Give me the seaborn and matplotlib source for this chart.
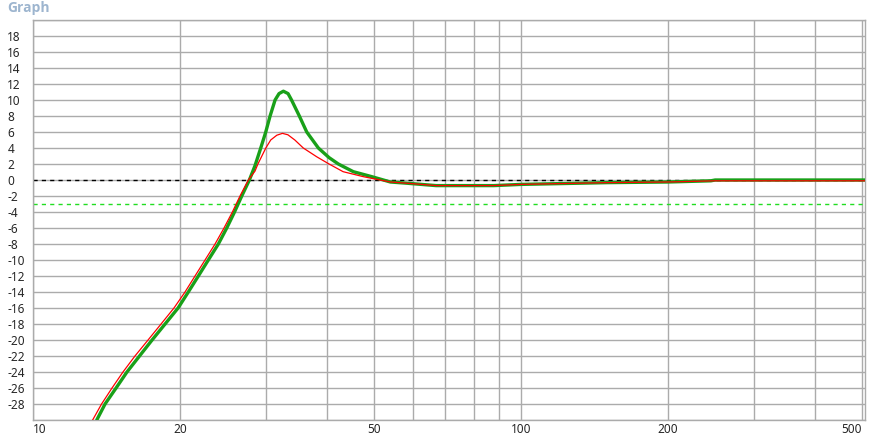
import matplotlib
matplotlib.use('Agg')
import matplotlib.pyplot as plt
import seaborn as sns
import pandas as pd

# частоты (Гц) и уровни (дБ)
green_freq = [13.51, 14.05, 14.80, 15.58, 16.53, 17.54, 18.65, 19.83, 20.81, 21.82, 22.87, 23.98,
              24.95, 25.88, 26.78, 27.76, 28.51, 29.29, 29.99, 30.61, 31.34, 31.93, 32.59,
              33.32, 33.87, 35.14, 36.39, 38.44, 40.43, 42.24, 45.33, 49.44, 54.0, 58.3, 67.0,
              88.0, 100.0, 150.0, 200.0, 245.0, 250.0, 510.0]
green_db = [-30, -28, -26, -24, -22, -20, -18, -16, -14, -12, -10, -8,
            -6, -4, -2, 0, 1.8, 4, 6, 8, 10, 10.8, 11.1,
            10.8, 10, 8, 6, 4, 2.8, 2, 1.04, 0.42, -0.25, -0.4, -0.7,
            -0.7, -0.55, -0.33, -0.25, -0.1, 0.0, 0.0]

red_freq = [13.25, 13.82, 14.52, 15.29, 16.18, 17.21, 18.30, 19.45, 20.49, 21.48, 22.52, 23.61,
            24.63, 25.62, 26.56, 27.63, 28.5, 28.9, 30.0, 30.7, 31.6, 32.45, 33.3, 34.4,
            35.8, 38.15, 40.43, 43.2, 47.5, 50.0, 54.0, 58.3, 67.0, 88.0, 100.0,
            150.0, 200.0, 250.0, 510.0]
red_db = [-30, -28, -26, -24, -22, -20, -18, -16, -14, -12, -10, -8,
          -6, -4, -2, 0, 1.1, 2, 4, 5, 5.6, 5.83, 5.65, 5.0,
          4, 2.9, 2, 1.04, 0.42, 0.15, -0.25, -0.4, -0.7, -0.7, -0.55,
          -0.33, -0.25, -0.1, -0.1]

ref_levels = [0, -3]
x_grid = [10, 20, 30, 40, 50, 60, 70, 80, 90, 100, 200, 300, 400, 500]
x_labels = {10: '10', 20: '20', 50: '50', 100: '100', 200: '200', 500: '500'}
y_ticks = list(range(-28, 20, 2))

green_df = pd.DataFrame({'freq': green_freq, 'db': green_db})
red_df = pd.DataFrame({'freq': red_freq, 'db': red_db})

sns.set_style('white')
plt.rcParams['font.family'] = ['Noto Sans', 'DejaVu Sans']

fig = plt.figure(figsize=(8.72, 4.41), dpi=100)
ax = fig.add_axes([33 / 872, 21 / 441, 832 / 872, 400 / 441])

ax.set_xscale('log')
ax.set_xlim(10, 507)
ax.set_ylim(-30, 20)

grid_c = '#ababab'
for xv in x_grid:
    ax.axvline(xv, color=grid_c, lw=1, zorder=1)
for yv in range(-30, 21, 2):
    ax.axhline(yv, color=grid_c, lw=1, zorder=1)

ax.axhline(ref_levels[0], color='black', lw=1, ls=(0, (3, 3)), zorder=2)
ax.axhline(ref_levels[1], color='#22dd22', lw=1, ls=(0, (3, 3)), zorder=2)

sns.lineplot(data=green_df, x='freq', y='db', ax=ax, color='#19a019', lw=2.4,
             zorder=3, sort=False)
sns.lineplot(data=red_df, x='freq', y='db', ax=ax, color='#ff0000', lw=0.9,
             zorder=4, sort=False)

ax.set_xlabel('')
ax.set_ylabel('')
ax.set_xticks(x_grid)
ax.set_xticks([], minor=True)
ax.set_xticklabels([x_labels.get(v, '') for v in x_grid], fontsize=8.5)
for lab, v in zip(ax.get_xticklabels(), x_grid):
    if v == 10:
        lab.set_ha('left')
    elif v == 500:
        lab.set_ha('right')
ax.tick_params(axis='x', length=0, pad=2)

ax.set_yticks(y_ticks)
ax.set_yticklabels([str(v) for v in y_ticks], fontsize=8.5, ha='left')
ax.tick_params(axis='y', length=0, pad=18.5)

for s in ax.spines.values():
    s.set_color(grid_c)
    s.set_linewidth(1)

fig.text(7 / 872, 1 - 8 / 441, 'Graph', color='#9db5cf', fontsize=10,
         fontweight='bold', family=['Open Sans', 'DejaVu Sans'],
         va='center', ha='left')

fig.savefig('out.png', dpi=100)
